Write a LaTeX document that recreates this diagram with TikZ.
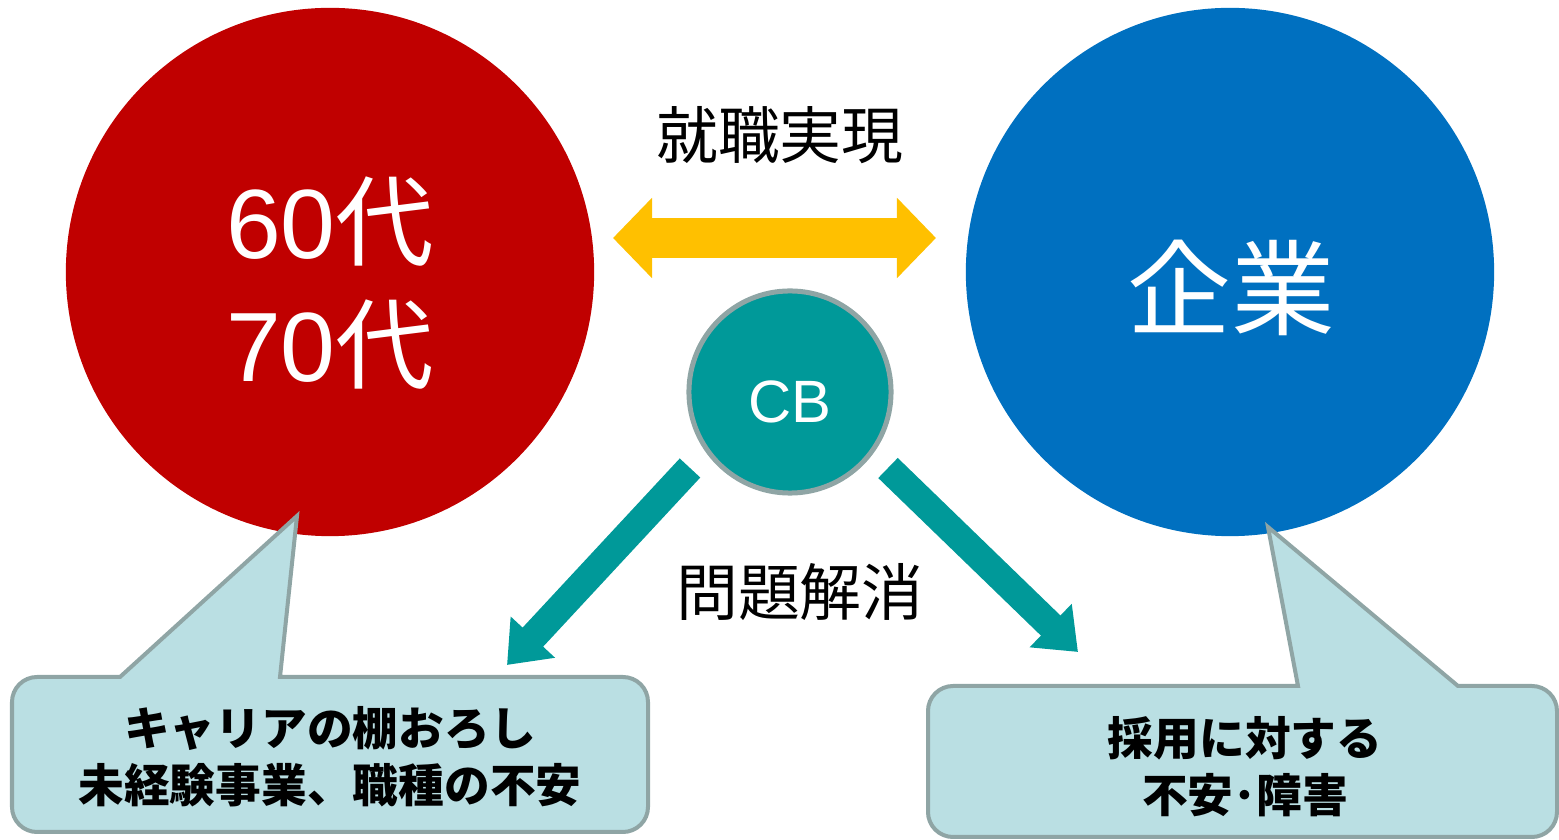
\documentclass[tikz,border=0pt]{standalone}
\usepackage{fontspec}
\setmainfont{Liberation Sans}
\newfontfamily\cjk{Noto Sans CJK JP}
\usetikzlibrary{arrows.meta}
\definecolor{agered}{HTML}{C00000}
\definecolor{firmblue}{HTML}{0070C0}
\definecolor{matchgold}{HTML}{FFC000}
\definecolor{cbteal}{HTML}{009999}
\definecolor{calloutline}{HTML}{8FA5A5}
\definecolor{calloutfill}{HTML}{BADFE3}
\tikzset{
  bigcircle/.style={circle, inner sep=0pt, minimum size=5.28cm},
  callout/.style={draw=calloutline, fill=calloutfill, line width=0.04cm},
  calltext/.style={align=center, font=\cjk\bfseries\fontsize{13}{16.2}\selectfont},
  headline/.style={font=\cjk\fontsize{17.6}{20}\selectfont},
  solvearrow/.style={draw=cbteal, line width=0.28cm, -{Triangle[width=0.58cm,length=0.38cm]}}
}
\begin{document}
\begin{tikzpicture}[x=0.01cm,y=-0.01cm]
\useasboundingbox (0,0) rectangle (1559,840);

% the two sides
\node[bigcircle, fill=agered] (age) at (330,272) {};
\node[bigcircle, fill=firmblue] (firm) at (1230,272) {};
\node[white, align=center, font=\fontsize{28}{35}\selectfont] (agetext) at (330,283) {60{\cjk 代}\\70{\cjk 代}};
\node[white, font=\cjk\fontsize{29.5}{32}\selectfont] (firmtext) at (1231,288) {企業};

% career builder in the middle
\node[circle, inner sep=0pt, minimum size=2.02cm, fill=cbteal, draw=calloutline, line width=0.05cm] (cb) at (790,392) {};
\node[white, font=\fontsize{17}{20}\selectfont] (cbtext) at (790,402) {CB};

% job matching
\coordinate (matchL) at (613,238);
\coordinate (matchR) at (936,238);
\draw[matchgold, line width=0.39cm, {Triangle[width=0.78cm,length=0.39cm]}-{Triangle[width=0.78cm,length=0.39cm]}] (matchL) -- (matchR);
\node[headline] (match) at (780,135) {就職実現};

% problem solving
\coordinate (solveL) at (690,468);
\coordinate (tipL) at (507,665);
\coordinate (solveR) at (888,468);
\coordinate (tipR) at (1078,652);
\draw[solvearrow] (solveL) -- (tipL);
\draw[solvearrow] (solveR) -- (tipR);
\node[headline] (solve) at (800,592) {問題解消};

% callouts
\draw[callout] (330,832) [rounded corners=0.25cm] -- (12,832) -- (12,677)
  [sharp corners] -- (120,677) -- (297,516) -- (280,677) [rounded corners=0.25cm] -- (648,677) -- (648,832) -- cycle;
\node[calltext] (agecall) at (330,757) {キャリアの棚おろし\\未経験事業、職種の不安};

\draw[callout] (1240,837) [rounded corners=0.25cm] -- (928,837) -- (928,686)
  [sharp corners] -- (1298,686) -- (1268,527) -- (1458,686) [rounded corners=0.25cm] -- (1557,686) -- (1557,837) -- cycle;
\node[calltext] (firmcall) at (1245,767) {採用に対する\\不安･障害};

\end{tikzpicture}
\end{document}
